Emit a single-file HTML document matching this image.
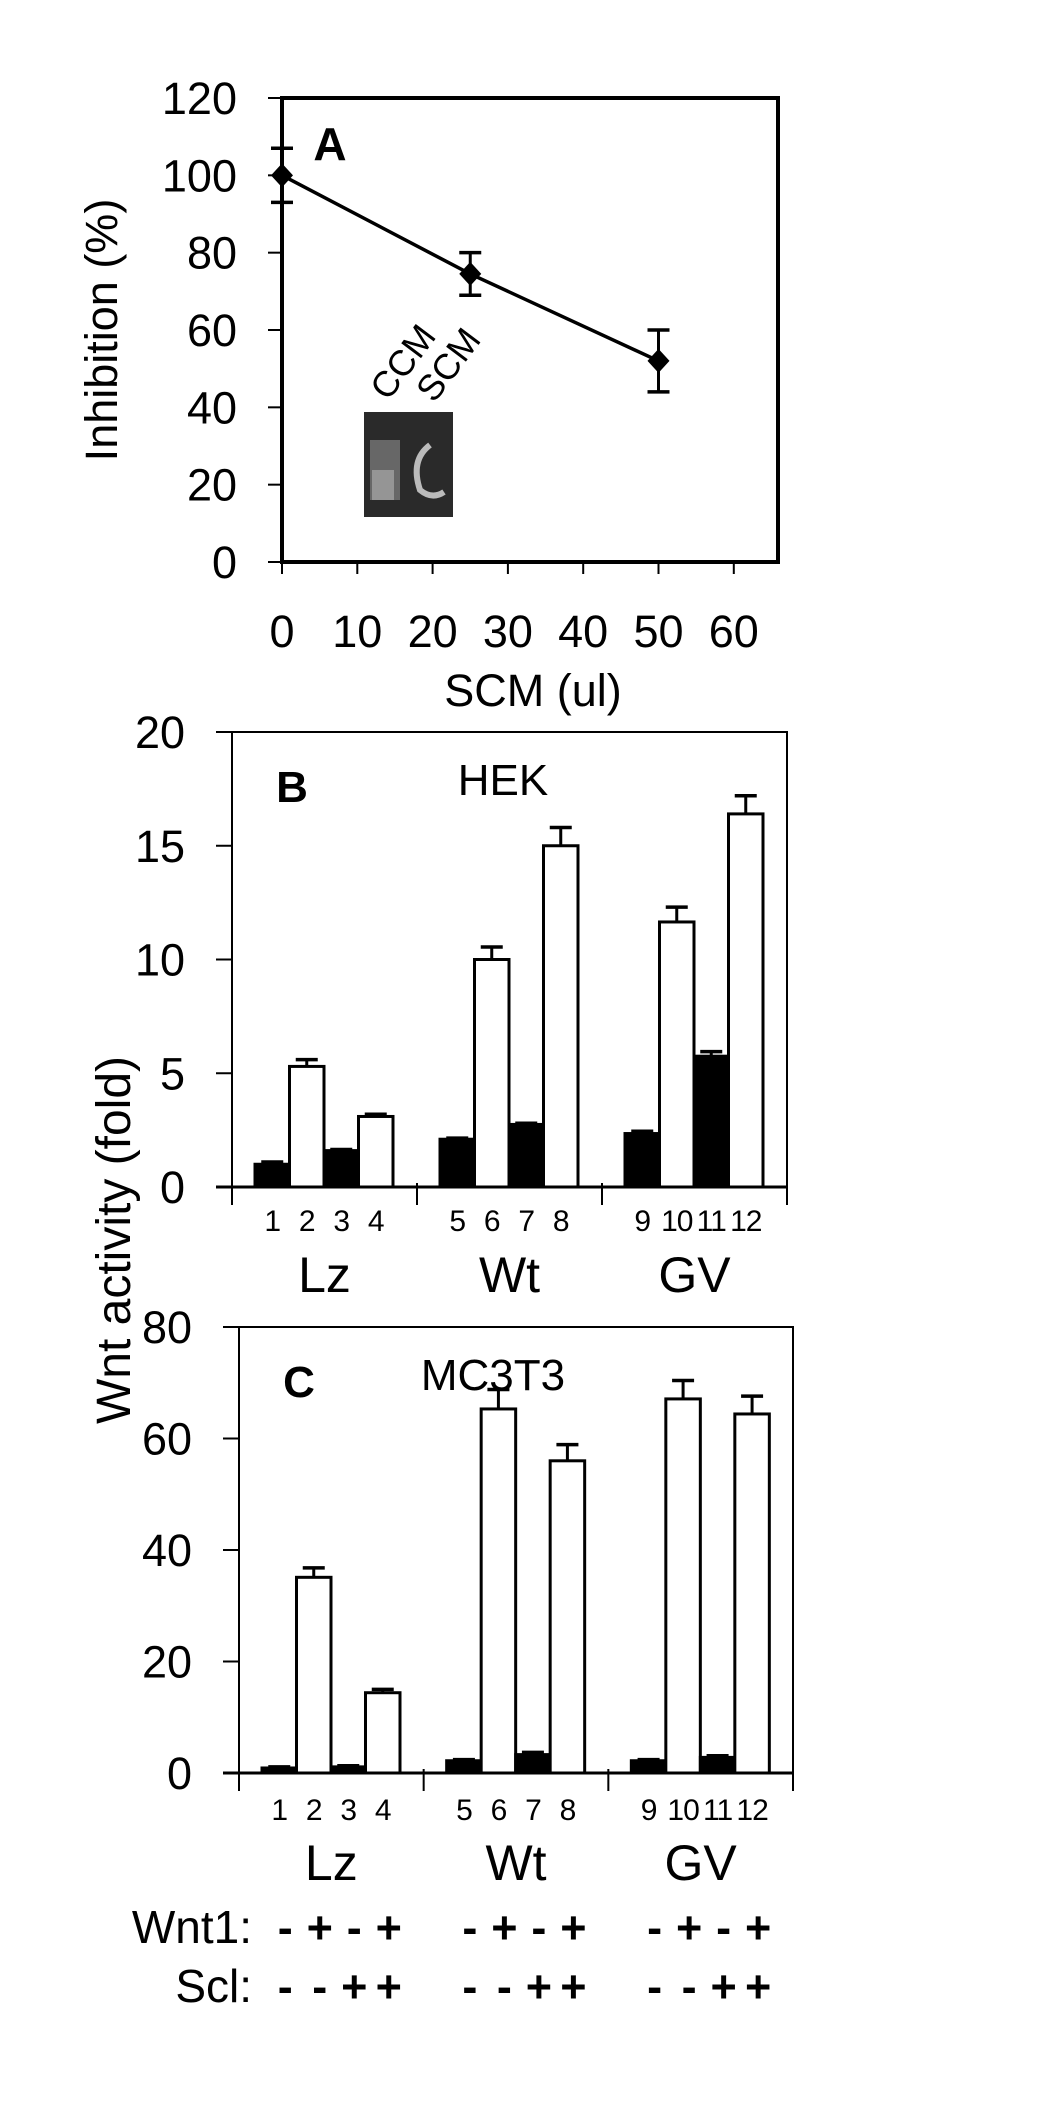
<!DOCTYPE html>
<html><head><meta charset="utf-8"><style>
html,body{margin:0;padding:0;background:#fff;}
svg{display:block;font-family:"Liberation Sans",Arial,sans-serif;}
</style></head><body>
<svg id="fig" width="1053" height="2105" viewBox="0 0 1053 2105" xmlns="http://www.w3.org/2000/svg">
<g id="pa"></g>
<g id="pb"></g>
<g id="pc"></g>
<g id="bottom"></g>
</svg>
<script>
// Panel A data
const aX = [0, 25, 50];
const aY = [100, 74.5, 52];
const aErr = [7, 5.5, 8];
const aYTicks = [0, 20, 40, 60, 80, 100, 120];
const aXTicks = [0, 10, 20, 30, 40, 50, 60];
// Panel B data (HEK)
const bLanes = ["1","2","3","4","5","6","7","8","9","10","11","12"];
const bVals = [1.0, 5.3, 1.6, 3.1, 2.1, 10.0, 2.75, 15.0, 2.35, 11.65, 5.75, 16.4];
const bErr = [0.1, 0.3, 0.05, 0.1, 0.05, 0.55, 0.05, 0.8, 0.1, 0.65, 0.2, 0.8];
const bTicks = [0, 5, 10, 15, 20];
// Panel C data (MC3T3)
const cVals = [0.9, 35.1, 1.1, 14.4, 2.2, 65.3, 3.3, 56.0, 2.2, 67.1, 2.8, 64.4];
const cErr = [0.2, 1.7, 0.2, 0.6, 0.2, 3.5, 0.4, 2.9, 0.2, 3.3, 0.3, 3.2];
const cTicks = [0, 20, 40, 60, 80];
const groups = ["Lz", "Wt", "GV"];
const wnt1 = ["-","+","-","+"];
const scl = ["-","-","+","+"];

const NS = "http://www.w3.org/2000/svg";
function mk(parent, tag, attrs, text) {
  const e = document.createElementNS(NS, tag);
  for (const k in attrs) e.setAttribute(k, attrs[k]);
  if (text !== undefined) e.textContent = text;
  parent.appendChild(e);
  return e;
}

// ---------- Panel A ----------
const pa = document.getElementById('pa');
const axL = 282, axR = 778, ayT = 98, ayB = 562;
const ax = v => axL + v * 75.3 / 10;
const ay = v => ayB - v * (ayB - ayT) / 120;
let r = mk(pa, 'rect', {x: axL, y: ayT, width: axR - axL, height: ayB - ayT, fill: 'none', stroke: '#000', 'stroke-width': 4});


aYTicks.forEach(t => {
  let l = mk(pa, 'line', {x1: axL - 14, x2: axL, y1: ay(t), y2: ay(t), stroke: '#000', 'stroke-width': 2});
  
  
  let tx = mk(pa, 'text', {x: axL - 45, y: ay(t) + 16, 'text-anchor': 'end', 'font-size': 45}, String(t));
  
  
});
aXTicks.forEach(t => {
  let l = mk(pa, 'line', {x1: ax(t), x2: ax(t), y1: ayB, y2: ayB + 12, stroke: '#000', 'stroke-width': 2});
  
  
  let tx = mk(pa, 'text', {x: ax(t), y: 647, 'text-anchor': 'middle', 'font-size': 45}, String(t));
  
  
});
let tt = mk(pa, 'text', {x: 0, y: 0, 'text-anchor': 'middle', 'font-size': 45, transform: 'translate(117,330) rotate(-90)'}, 'Inhibition (%)');


tt = mk(pa, 'text', {x: 533, y: 706, 'text-anchor': 'middle', 'font-size': 45}, 'SCM (ul)');


tt = mk(pa, 'text', {x: 330, y: 160, 'text-anchor': 'middle', 'font-size': 46, 'font-weight': 'bold'}, 'A');


// gel inset
let gel = mk(pa, 'g', {});


mk(gel, 'rect', {x: 364, y: 412, width: 89, height: 105, fill: '#2a2a2a'});
mk(gel, 'rect', {x: 370, y: 440, width: 30, height: 60, fill: '#777', opacity: 0.8});
mk(gel, 'rect', {x: 372, y: 470, width: 22, height: 30, fill: '#aaa', opacity: 0.7});
mk(gel, 'path', {d: 'M430 445 Q410 460 420 490 Q432 500 444 492', fill: 'none', stroke: '#bbb', 'stroke-width': 6});
tt = mk(pa, 'text', {x: 0, y: 0, 'font-size': 36, transform: 'translate(388,402) rotate(-53)'}, 'CCM');


tt = mk(pa, 'text', {x: 0, y: 0, 'font-size': 36, transform: 'translate(434,404) rotate(-53)'}, 'SCM');


// line + points
let pts = aX.map((v, i) => ax(v) + ',' + ay(aY[i])).join(' ');
let pl = mk(pa, 'polyline', {points: pts, fill: 'none', stroke: '#000', 'stroke-width': 3.5});


aX.forEach((v, i) => {
  const cx = ax(v), cy = ay(aY[i]), e1 = ay(aY[i] + aErr[i]), e2 = ay(aY[i] - aErr[i]);
  let g = mk(pa, 'g', {});
  
  
  mk(g, 'line', {x1: cx, x2: cx, y1: e1, y2: e2, stroke: '#000', 'stroke-width': 3});
  mk(g, 'line', {x1: cx - 11, x2: cx + 11, y1: e1, y2: e1, stroke: '#000', 'stroke-width': 3.5});
  mk(g, 'line', {x1: cx - 11, x2: cx + 11, y1: e2, y2: e2, stroke: '#000', 'stroke-width': 3.5});
  mk(g, 'polygon', {points: `${cx},${cy-12} ${cx+11},${cy} ${cx},${cy+12} ${cx-11},${cy}`, fill: '#000'});
});

// ---------- bar panels ----------
function barPanel(pg, id, L, R, T, B, ticks, maxV, vals, errs, lbl, title, titleX, numY, grpY) {
  const y = v => B - v * (B - T) / maxV;
  const gw = (R - L) / 3;
  const bw = 34.5, off = 23;
  let fr = mk(pg, 'rect', {x: L, y: T, width: R - L, height: B - T, fill: 'none', stroke: '#000', 'stroke-width': 2});
  
  
  ticks.forEach(t => {
    let l = mk(pg, 'line', {x1: L - 16, x2: L, y1: y(t), y2: y(t), stroke: '#000', 'stroke-width': 2});
    
    
    let tx = mk(pg, 'text', {x: L - 47, y: y(t) + 16, 'text-anchor': 'end', 'font-size': 45}, String(t));
    
    
  });
  for (let g = 0; g <= 3; g++) {
    let l = mk(pg, 'line', {x1: L + g * gw, x2: L + g * gw, y1: B - 4, y2: B + 18, stroke: '#000', 'stroke-width': 2});
    
    
  }
  mk(pg, 'line', {x1: L - 16, x2: R, y1: B, y2: B, stroke: '#000', 'stroke-width': 3});
  vals.forEach((v, i) => {
    const g = Math.floor(i / 4), k = i % 4;
    const x0 = L + g * gw + off + k * bw;
    const black = (k % 2 === 0);
    const top = y(v), et = y(v + errs[i]);
    let grp = mk(pg, 'g', {});
    
    
    mk(grp, 'line', {x1: x0 + bw / 2, x2: x0 + bw / 2, y1: top, y2: et, stroke: '#000', 'stroke-width': 3});
    mk(grp, 'line', {x1: x0 + bw / 2 - 11, x2: x0 + bw / 2 + 11, y1: et, y2: et, stroke: '#000', 'stroke-width': 3.5});
    mk(grp, 'rect', {x: x0, y: top, width: bw, height: B - top, fill: black ? '#000' : '#fff', stroke: '#000', 'stroke-width': 3});
    let n = mk(pg, 'text', {x: x0 + bw / 2, y: numY, 'text-anchor': 'middle', 'font-size': 30, 'letter-spacing': -1}, bLanes[i]);
    
    
  });
  groups.forEach((gname, g) => {
    let tx = mk(pg, 'text', {x: L + g * gw + gw / 2, y: grpY, 'text-anchor': 'middle', 'font-size': 50}, gname);
    
    
  });
  let pl = mk(pg, 'text', {x: L + 60, y: T + 70, 'text-anchor': 'middle', 'font-size': 44, 'font-weight': 'bold'}, lbl);
  
  
  let ti = mk(pg, 'text', {x: titleX, y: T + 63, 'text-anchor': 'middle', 'font-size': 44}, title);
  
  
  return {L, gw, off, bw};
}
barPanel(document.getElementById('pb'), 'b', 232, 787, 732, 1187, bTicks, 20, bVals, bErr, 'B', 'HEK', 503, 1231, 1292);
const geo = barPanel(document.getElementById('pc'), 'c', 239, 793, 1327, 1773, cTicks, 80, cVals, cErr, 'C', 'MC3T3', 493, 1820, 1880);

let yt = mk(document.getElementById('pc'), 'text', {x: 0, y: 0, 'text-anchor': 'middle', 'font-size': 48, transform: 'translate(130,1240) rotate(-90)'}, 'Wnt activity (fold)');



// ---------- bottom +/- rows ----------
const bt = document.getElementById('bottom');
let w = mk(bt, 'text', {x: 252, y: 1943, 'text-anchor': 'end', 'font-size': 46}, 'Wnt1:');


w = mk(bt, 'text', {x: 252, y: 2002, 'text-anchor': 'end', 'font-size': 46}, 'Scl:');


for (let g = 0; g < 3; g++) {
  for (let k = 0; k < 4; k++) {
    const cx = geo.L + g * geo.gw + geo.off + k * geo.bw + geo.bw / 2 + 6;
    let s1 = mk(bt, 'text', {x: cx, y: 1943, 'text-anchor': 'middle', 'font-size': 45, 'font-weight': 'bold'}, wnt1[k]);
    
    
    let s2 = mk(bt, 'text', {x: cx, y: 2002, 'text-anchor': 'middle', 'font-size': 45, 'font-weight': 'bold'}, scl[k]);
    
    
  }
}
</script>
</body></html>
